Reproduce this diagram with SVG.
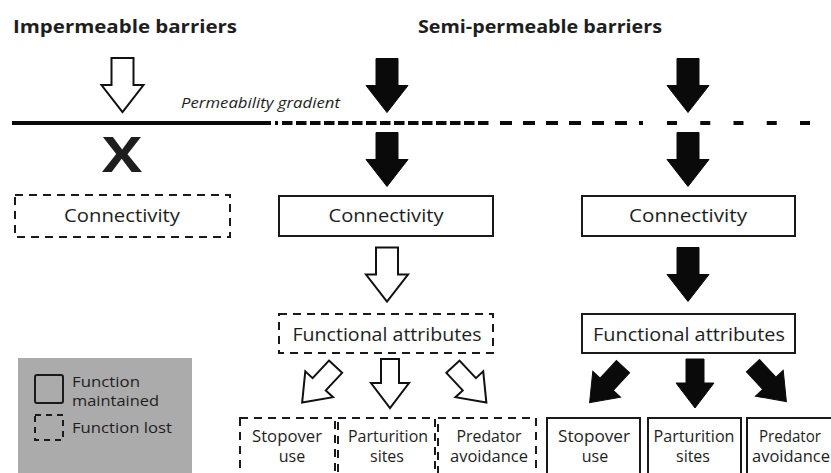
<svg xmlns="http://www.w3.org/2000/svg" width="831" height="473" viewBox="0 0 831 473">
<style>
text{font-family:"Open Sans","Liberation Sans",sans-serif;fill:#1e1e1e}
.title{font-size:18px;font-weight:bold}
.lbl{font-size:18px;text-anchor:middle}
.sm{font-size:16px;text-anchor:middle}
.leg{font-size:14px}
.solid{fill:#fff;stroke:#1a1a1a;stroke-width:2}
.dash{fill:#fff;stroke:#1a1a1a;stroke-width:2;stroke-dasharray:8 6}
.hollow{fill:#fff;stroke:#111;stroke-width:2;stroke-linejoin:miter}
.full{fill:#0a0a0a;stroke:#0a0a0a;stroke-width:1}
.bar{stroke:#0a0a0a;stroke-width:4;fill:none}
</style>
<defs>
<polygon id="big" points="-11,-27 11,-27 11,0 21,0 0,27 -21,0 -11,0"/>
<polygon id="sub" points="-9,-25 9,-25 9,-1 19,-1 0,24 -19,-1 -9,-1"/>
</defs>

<g id="titles">
<text class="title" x="13" y="33" textLength="224" lengthAdjust="spacingAndGlyphs">Impermeable barriers</text>
<text class="title" x="418" y="33" textLength="244" lengthAdjust="spacingAndGlyphs">Semi-permeable barriers</text>
</g>

<g id="gradient">
<line class="bar" x1="12" y1="123" x2="271" y2="123"/>
<line class="bar" x1="275" y1="123" x2="278" y2="123"/>
<line class="bar" x1="282" y1="123" x2="492" y2="123" stroke-dasharray="10.5 3.5"/>
<line class="bar" x1="500" y1="123" x2="628" y2="123" stroke-dasharray="12 11"/>
<line class="bar" x1="639" y1="123" x2="643" y2="123"/>
<line class="bar" x1="667" y1="123" x2="811" y2="123" stroke-dasharray="10 23.25"/>
<text x="181" y="108" font-size="14" font-style="italic" textLength="159" lengthAdjust="spacingAndGlyphs">Permeability gradient</text>
</g>

<g id="connectors">
<use href="#big" class="hollow" transform="translate(122.5,85)"/>
<use href="#big" class="full" transform="translate(387,85.5)"/>
<use href="#big" class="full" transform="translate(688,85.5)"/>
<text x="122" y="172" font-family="Liberation Sans,Arial,sans-serif" font-weight="bold" font-size="49" text-anchor="middle" fill="#0a0a0a" textLength="40" lengthAdjust="spacingAndGlyphs">X</text>
<use href="#big" class="full" transform="translate(387,159.5)"/>
<use href="#big" class="full" transform="translate(688,159.5)"/>
<use href="#big" class="hollow" transform="translate(387,274.5)"/>
<use href="#big" class="full" transform="translate(688,274.5)"/>
<use href="#sub" class="hollow" transform="translate(318.5,385) rotate(43)"/>
<use href="#sub" class="hollow" transform="translate(390,384)"/>
<use href="#sub" class="hollow" transform="translate(470,385) rotate(-43)"/>
<use href="#sub" class="full" transform="translate(606,385) rotate(43)"/>
<use href="#sub" class="full" transform="translate(695,384)"/>
<use href="#sub" class="full" transform="translate(770,384) rotate(-43)"/>
</g>

<g id="conn1">
<rect class="dash" x="15" y="195" width="215" height="42"/>
<text class="lbl" x="122" y="222" textLength="116" lengthAdjust="spacingAndGlyphs">Connectivity</text>
</g>
<g id="conn2">
<rect class="solid" x="279" y="196" width="214" height="40"/>
<text class="lbl" x="386" y="222" textLength="115" lengthAdjust="spacingAndGlyphs">Connectivity</text>
</g>
<g id="conn3">
<rect class="solid" x="582" y="196" width="213" height="40"/>
<text class="lbl" x="688" y="222" textLength="118" lengthAdjust="spacingAndGlyphs">Connectivity</text>
</g>

<g id="func2">
<rect class="dash" x="279" y="314" width="214" height="39"/>
<text class="lbl" x="387" y="341" textLength="189" lengthAdjust="spacingAndGlyphs">Functional attributes</text>
</g>
<g id="func3">
<rect class="solid" x="582" y="314" width="213" height="39"/>
<text class="lbl" x="689" y="341" textLength="192" lengthAdjust="spacingAndGlyphs">Functional attributes</text>
</g>

<g id="stop2">
<rect class="dash" x="240" y="418" width="95" height="70"/>
<text class="sm" x="287" y="442" textLength="70" lengthAdjust="spacingAndGlyphs">Stopover</text>
<text class="sm" x="292" y="462">use</text>
</g>
<g id="part2">
<rect class="dash" x="338" y="418" width="97" height="70"/>
<text class="sm" x="388" y="442" textLength="80" lengthAdjust="spacingAndGlyphs">Parturition</text>
<text class="sm" x="387" y="462">sites</text>
</g>
<g id="pred2">
<rect class="dash" x="438" y="418" width="98" height="70"/>
<text class="sm" x="489" y="442" textLength="65" lengthAdjust="spacingAndGlyphs">Predator</text>
<text class="sm" x="489" y="462" textLength="78" lengthAdjust="spacingAndGlyphs">avoidance</text>
</g>
<g id="stop3">
<rect class="solid" x="547" y="418" width="93" height="70"/>
<text class="sm" x="594" y="442" textLength="72" lengthAdjust="spacingAndGlyphs">Stopover</text>
<text class="sm" x="595" y="462">use</text>
</g>
<g id="part3">
<rect class="solid" x="648" y="418" width="93" height="70"/>
<text class="sm" x="694" y="442" textLength="81" lengthAdjust="spacingAndGlyphs">Parturition</text>
<text class="sm" x="693" y="462">sites</text>
</g>
<g id="pred3">
<rect class="solid" x="747" y="418" width="100" height="70"/>
<text class="sm" x="790" y="442" textLength="62" lengthAdjust="spacingAndGlyphs">Predator</text>
<text class="sm" x="791" y="462" textLength="78" lengthAdjust="spacingAndGlyphs">avoidance</text>
</g>

<g id="legend">
<rect x="18" y="358" width="174" height="130" fill="#ababab"/>
<rect x="35" y="375" width="28" height="28" rx="2" fill="none" stroke="#1a1a1a" stroke-width="2"/>
<text class="leg" x="72" y="387" textLength="68" lengthAdjust="spacingAndGlyphs">Function</text>
<text class="leg" x="72" y="406" textLength="87" lengthAdjust="spacingAndGlyphs">maintained</text>
<rect x="35" y="415" width="28" height="25" fill="none" stroke="#1a1a1a" stroke-width="2" stroke-dasharray="6 5"/>
<text class="leg" x="72" y="433" textLength="100" lengthAdjust="spacingAndGlyphs">Function lost</text>
</g>
</svg>
